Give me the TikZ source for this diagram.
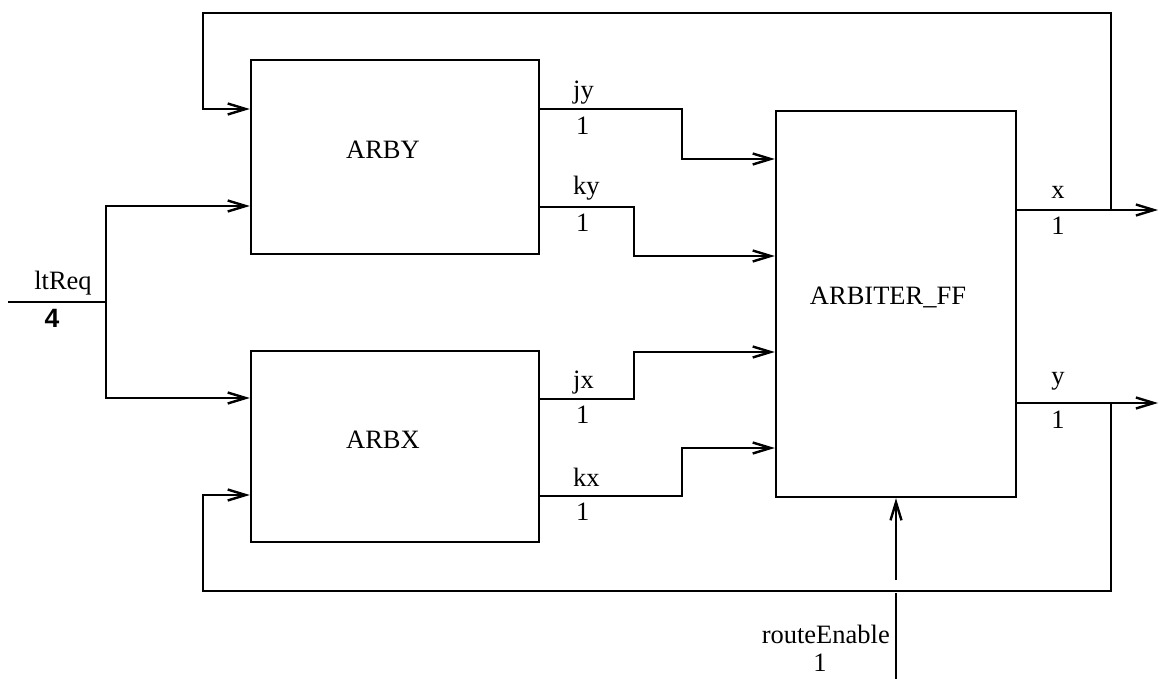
\documentclass[tikz,border=0pt]{standalone}
\usepackage{fontspec}
\setmainfont{Liberation Serif}
\newfontfamily\numfont{Liberation Sans}
\usetikzlibrary{arrows.meta}
\begin{document}
\begin{tikzpicture}[x=1pt,y=-1pt,
  blk/.style={draw, line width=2.4pt, minimum width=#1, inner sep=0pt},
  sig/.style={line width=2.4pt, -{Straight Barb[length=18pt,width=11pt,line width=2.4pt]}},
  wire/.style={line width=2.4pt},
  txt/.style={font=\fontsize{26.5}{31}\selectfont, inner sep=0pt}]
\useasboundingbox (0,0) rectangle (1159,679);
% blocks
\node[blk=288pt, minimum height=194pt] (arby) at (395,157) {};
\node[blk=288pt, minimum height=191pt] (arbx) at (395,446.5) {};
\node[blk=240pt, minimum height=386pt] (arb) at (896,304) {};
\node[txt] (larby) at (383,150) {ARBY};
\node[txt] (larbx) at (383,440) {ARBX};
\node[txt] (larb) at (888,297) {ARBITER\_FF};
% bend coordinates
\coordinate (jyb) at (682,159);
\coordinate (kyb) at (634,256);
\coordinate (jxb) at (634,352);
\coordinate (kxb) at (682,448);
\coordinate (xo) at (1158,210);
\coordinate (yo) at (1158,403);
\coordinate (xt) at (1111,210);
\coordinate (yt) at (1111,403);
\coordinate (tl) at (203,13);
\coordinate (bl) at (203,591);
\coordinate (lin) at (8,302);
\coordinate (lsp) at (106,302);
\coordinate (rin) at (896,679);
\coordinate (rtop) at (896,593);
\coordinate (rlow) at (896,580);
% internal signals
\draw[sig] (arby.east |- 0,109) -| (jyb) -- (arb.west |- jyb);
\draw[sig] (arby.east |- 0,207) -| (kyb) -- (arb.west |- kyb);
\draw[sig] (arbx.east |- 0,399) -| (jxb) -- (arb.west |- jxb);
\draw[sig] (arbx.east |- 0,496) -| (kxb) -- (arb.west |- kxb);
% outputs
\draw[sig] (arb.east |- xo) -- (xo);
\draw[sig] (arb.east |- yo) -- (yo);
% feedback
\draw[sig] (xt) |- (tl) |- (arby.west |- 0,109);
\draw[sig] (yt) |- (bl) |- (arbx.west |- 0,495);
% ltReq
\draw[wire] (lin) -- (lsp);
\draw[sig] (lsp) |- (arby.west |- 0,206);
\draw[sig] (lsp) |- (arbx.west |- 0,398);
% routeEnable
\draw[wire] (rin) -- (rtop);
\draw[sig] (rlow) -- (arb.south);
% labels
\node[txt, anchor=west] (ljy) at (573,93) {jy};
\node[txt, anchor=west] (ljy1) at (576,126) {1};
\node[txt, anchor=west] (lky) at (573,188) {ky};
\node[txt, anchor=west] (lky1) at (576,223) {1};
\node[txt, anchor=west] (ljx) at (573,383) {jx};
\node[txt, anchor=west] (ljx1) at (576,415) {1};
\node[txt, anchor=west] (lkx) at (573,477) {kx};
\node[txt, anchor=west] (lkx1) at (576,512) {1};
\node[txt] (lx) at (1058,192) {x};
\node[txt] (lx1) at (1058,226) {1};
\node[txt] (ly) at (1058,381) {y};
\node[txt] (ly1) at (1058,420) {1};
\node[txt] (llt) at (63,283) {ltReq};
\node[txt, font=\fontsize{26.5}{31}\numfont\bfseries] (llt4) at (52,318) {4};
\node[txt, anchor=east] (lre) at (890,634) {routeEnable};
\node[txt] (lre1) at (820,663) {1};
\end{tikzpicture}
\end{document}
